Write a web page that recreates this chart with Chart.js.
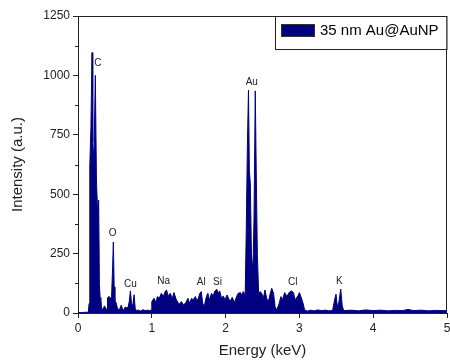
<!DOCTYPE html>
<html>
<head>
<meta charset="utf-8">
<script src="https://cdn.jsdelivr.net/npm/chart.js@4.4.1/dist/chart.umd.min.js"></script>
<style>
  html, body { margin: 0; padding: 0; background: #fff; }
  #wrap { width: 450px; height: 360px; }
</style>
</head>
<body>
<div id="wrap"><canvas id="eds"></canvas></div>
<script>
// EDS spectrum (keV, counts)
const energy = [
    0, 0.05, 0.1, 0.14, 0.15, 0.16, 0.175, 0.19, 0.2, 0.215, 0.235, 0.25, 0.265, 0.28, 0.29, 0.3, 0.31, 0.32,
    0.34, 0.36, 0.38, 0.395, 0.4, 0.42, 0.44, 0.455, 0.47, 0.479, 0.49, 0.5, 0.515, 0.53, 0.55, 0.57, 0.585,
    0.6, 0.62, 0.64, 0.66, 0.68, 0.695, 0.71, 0.725, 0.74, 0.76, 0.775, 0.79, 0.82, 0.85, 0.88, 0.91, 0.94,
    0.97, 0.99, 1.0, 1.03, 1.057, 1.075, 1.1, 1.13, 1.156, 1.18, 1.2, 1.22, 1.25, 1.28, 1.3, 1.33, 1.36, 1.38,
    1.4, 1.43, 1.46, 1.49, 1.51, 1.54, 1.56, 1.59, 1.61, 1.63, 1.65, 1.67, 1.69, 1.71, 1.74, 1.76, 1.78, 1.81,
    1.83, 1.85, 1.88, 1.9, 1.92, 1.945, 1.97, 1.99, 2.02, 2.04, 2.06, 2.09, 2.12, 2.14, 2.17, 2.2, 2.22, 2.24,
    2.255, 2.265, 2.28, 2.295, 2.31, 2.322, 2.335, 2.35, 2.37, 2.385, 2.402, 2.415, 2.43, 2.448, 2.466, 2.49,
    2.51, 2.534, 2.556, 2.58, 2.6, 2.625, 2.65, 2.67, 2.69, 2.72, 2.75, 2.77, 2.8, 2.83, 2.86, 2.89, 2.92, 2.94,
    2.98, 3.0, 3.02, 3.05, 3.07, 3.11, 3.15, 3.2, 3.25, 3.3, 3.35, 3.4, 3.45, 3.48, 3.496, 3.515, 3.535, 3.56,
    3.58, 3.6, 3.7, 3.8, 3.9, 4.0, 4.1, 4.2, 4.3, 4.4, 4.47, 4.55, 4.65, 4.75, 4.85, 4.95, 5.0
];
const counts = [
    2, 2, 3, 3, 40, 620, 780, 1096, 720, 640, 1000, 560, 430, 475, 120, 65, 60, 15,
    18, 30, 15, 20, 63, 70, 60, 70, 200, 299, 110, 48, 45, 25, 12, 20, 33,
    20, 12, 25, 22, 25, 50, 93, 40, 28, 77, 20, 10, 12, 8, 14, 10, 12,
    10, 12, 48, 62, 43, 69, 62, 83, 69, 90, 97, 72, 83, 62, 86, 58, 41, 38,
    48, 34, 43, 62, 41, 62, 55, 69, 55, 60, 83, 90, 41, 27, 69, 83, 55, 83,
    69, 90, 100, 83, 93, 62, 72, 55, 76, 62, 48, 66, 43, 62, 83, 86, 76, 90,
    83, 70, 350, 700, 938, 600, 546, 250, 175, 400, 935, 600, 250, 80, 90, 83,
    60, 97, 62, 48, 76, 104, 83, 27, 13, 34, 69, 55, 86, 69, 86, 93, 86, 55,
    72, 86, 69, 41, 13, 8, 12, 9, 13, 10, 12, 9, 11, 60, 79, 25, 45, 101,
    30, 10, 12, 9, 13, 10, 12, 9, 11, 10, 15, 10, 12, 9, 11, 10, 10
];

// element labels: name, energy of label centre, height of label centre
const peakNames = ['C', 'O', 'Cu', 'Na', 'Al', 'Si', 'Au', 'Cl', 'K'];
const peakEnergy = [0.27, 0.47, 0.71, 1.16, 1.67, 1.89, 2.355, 2.91, 3.54];
const peakLabelY = [1052, 337, 122, 135, 128, 131, 973, 128, 135];

const yTicks = [0, 250, 500, 750, 1000, 1250];
const yMinorTicks = [125, 375, 625, 875, 1125];
const xTicks = [0, 1, 2, 3, 4, 5];

const seriesName = '35 nm Au@AuNP';
const navy = '#000080';
const ink = '#222';
const fontFamily = '"Liberation Sans", Arial, sans-serif';

const extras = {
    id: 'extras',
    afterDraw(chart) {
        const { ctx, chartArea: a, scales } = chart;
        const x = scales.x, y = scales.y;
        ctx.save();

        // top and right sides of the frame
        ctx.strokeStyle = ink;
        ctx.lineWidth = 1;
        ctx.beginPath();
        ctx.moveTo(a.left, a.top + 0.5);
        ctx.lineTo(a.right - 0.5, a.top + 0.5);
        ctx.lineTo(a.right - 0.5, a.bottom);
        ctx.stroke();

        // minor ticks on the y axis
        ctx.beginPath();
        yMinorTicks.forEach(v => {
            const py = Math.round(y.getPixelForValue(v)) + 0.5;
            ctx.moveTo(a.left - 3, py);
            ctx.lineTo(a.left, py);
        });
        ctx.stroke();

        // element labels
        ctx.fillStyle = ink;
        ctx.font = '10px ' + fontFamily;
        ctx.textAlign = 'center';
        ctx.textBaseline = 'middle';
        peakNames.forEach((name, i) => {
            ctx.fillText(name, x.getPixelForValue(peakEnergy[i]), y.getPixelForValue(peakLabelY[i]));
        });

        // legend box
        const bx = 275, by = 16, bw = a.right - 0.5 - bx, bh = 33;
        ctx.fillStyle = '#fff';
        ctx.fillRect(bx, by, bw, bh);
        ctx.strokeRect(bx + 0.5, by + 0.5, bw, bh);
        ctx.fillStyle = navy;
        ctx.fillRect(281, 24, 34, 13);
        ctx.strokeStyle = '#333';
        ctx.strokeRect(281.5, 24.5, 33, 12);
        ctx.fillStyle = '#000';
        ctx.font = '15px ' + fontFamily;
        ctx.textAlign = 'left';
        ctx.fillText(chart.data.datasets[0].label, 320, 31);

        ctx.restore();
    }
};

const ctx = document.getElementById('eds').getContext('2d');
new Chart(ctx, {
    type: 'line',
    data: {
        datasets: [{
            label: seriesName,
            data: energy.map((e, i) => ({ x: e, y: counts[i] })),
            borderColor: navy,
            backgroundColor: navy,
            borderWidth: 1,
            pointRadius: 0,
            tension: 0,
            fill: 'origin'
        }]
    },
    options: {
        responsive: true,
        maintainAspectRatio: false,
        animation: false,
        layout: { padding: { top: 16, right: 3, left: 0, bottom: 0 } },
        plugins: {
            legend: { display: false },
            tooltip: { enabled: false }
        },
        scales: {
            x: {
                type: 'linear',
                min: 0,
                max: 5,
                afterBuildTicks: s => { s.ticks = xTicks.map(v => ({ value: v })); },
                afterFit: s => { s.height = 47; s.paddingLeft = 0; s.paddingRight = 0; },
                grid: { drawOnChartArea: false, tickLength: 5, color: ink },
                border: { color: ink, width: 1 },
                ticks: {
                    color: ink, padding: 3, maxRotation: 0,
                    font: { family: fontFamily, size: 12 },
                    callback: v => String(v)
                },
                title: {
                    display: true,
                    text: 'Energy (keV)',
                    color: ink,
                    padding: { top: 0, bottom: 0 },
                    font: { family: fontFamily, size: 15 }
                }
            },
            y: {
                min: 0,
                max: 1250,
                afterBuildTicks: s => { s.ticks = yTicks.map(v => ({ value: v })); },
                afterFit: s => { s.width = 78; s.paddingTop = 0; s.paddingBottom = 0; },
                grid: { drawOnChartArea: false, tickLength: 5, color: ink },
                border: { color: ink, width: 1 },
                ticks: {
                    color: ink, padding: 3,
                    font: { family: fontFamily, size: 12 },
                    callback: v => String(v)
                },
                title: {
                    display: true,
                    text: 'Intensity (a.u.)',
                    color: ink,
                    padding: { top: 9, bottom: 0 },
                    font: { family: fontFamily, size: 15 }
                }
            }
        }
    },
    plugins: [extras]
});
</script>
</body>
</html>
